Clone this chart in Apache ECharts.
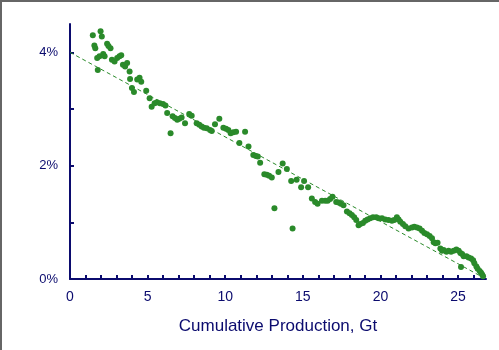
<!DOCTYPE html>
<html>
<head>
<meta charset="utf-8">
<script src="https://cdn.jsdelivr.net/npm/echarts@6/dist/echarts.min.js"></script>
<style>
  html, body { margin: 0; padding: 0; background: #fff; }
  #wrap { position: relative; width: 499px; height: 350px; }
  #chart { position: absolute; left: 0; top: 0; width: 499px; height: 350px; }
  #frame { position: absolute; left: 0; top: 0; width: 499px; height: 350px; box-sizing: border-box;
           border-top: 2px solid #666; border-left: 2px solid #666; pointer-events: none; }
</style>
</head>
<body>
<div id="wrap"><div id="chart"></div><div id="frame"></div></div>
<script>
// Cumulative production (Gt)
const production = [
  1.47, 1.57, 1.63, 1.75, 1.79, 1.90, 1.97, 2.05, 2.14, 2.23,
  2.39, 2.48, 2.61, 2.70, 2.87, 3.04, 3.19, 3.30, 3.41, 3.55,
  3.68, 3.84, 3.87, 3.99, 4.12, 4.33, 4.48, 4.59, 4.91, 5.13,
  5.26, 5.45, 5.60, 5.79, 5.99, 6.15, 6.26, 6.48, 6.61, 6.76,
  6.91, 7.04, 7.19, 7.41, 7.68, 7.84, 8.16, 8.33, 8.48, 8.63,
  8.81, 9.02, 9.13, 9.34, 9.62, 9.88, 10.05, 10.20, 10.35, 10.52,
  10.70, 10.91, 11.28, 11.50, 11.81, 11.97, 12.10, 12.25, 12.52, 12.68,
  12.83, 13.00, 13.17, 13.43, 13.70, 13.97, 14.25, 14.34, 14.60, 14.89,
  15.08, 15.34, 15.58, 15.79, 15.95, 16.23, 16.44, 16.60, 16.76, 16.91,
  17.15, 17.30, 17.45, 17.62, 17.84, 18.01, 18.16, 18.31, 18.44, 18.59,
  18.70, 18.87, 19.02, 19.17, 19.34, 19.52, 19.73, 19.88, 20.10, 20.31,
  20.52, 20.74, 20.89, 21.06, 21.17, 21.28, 21.45, 21.60, 21.81, 22.03,
  22.18, 22.35, 22.52, 22.68, 22.83, 23.00, 23.17, 23.32, 23.43, 23.54,
  23.68, 23.86, 23.97, 24.07, 24.25, 24.39, 24.55, 24.72, 24.89, 25.04,
  25.15, 25.19, 25.26, 25.36, 25.54, 25.68, 25.84, 25.97, 26.05, 26.18,
  26.26, 26.39, 26.48, 26.55, 26.61
];
// Rate (%)
const rate = [
  4.30, 4.12, 4.07, 3.90, 3.69, 3.93, 4.37, 4.28, 3.97, 3.93,
  4.15, 4.11, 4.07, 3.87, 3.84, 3.90, 3.93, 3.95, 3.78, 3.75,
  3.81, 3.66, 3.53, 3.37, 3.30, 3.52, 3.55, 3.48, 3.32, 3.19,
  3.04, 3.10, 3.12, 3.10, 3.09, 3.06, 2.93, 2.57, 2.87, 2.84,
  2.81, 2.83, 2.85, 2.75, 2.91, 2.88, 2.75, 2.72, 2.69, 2.67,
  2.66, 2.63, 2.61, 2.73, 2.83, 2.67, 2.65, 2.63, 2.57, 2.59,
  2.60, 2.40, 2.60, 2.34, 2.19, 2.17, 2.16, 2.05, 1.85, 1.84,
  1.82, 1.79, 1.25, 1.89, 2.04, 1.94, 1.73, 0.89, 1.75, 1.62,
  1.73, 1.62, 1.42, 1.36, 1.33, 1.38, 1.38, 1.38, 1.41, 1.45,
  1.36, 1.35, 1.33, 1.30, 1.19, 1.16, 1.13, 1.09, 1.04, 0.95,
  0.97, 0.99, 1.03, 1.05, 1.07, 1.09, 1.09, 1.07, 1.07, 1.05,
  1.04, 1.03, 1.04, 1.09, 1.05, 1.01, 0.97, 0.93, 0.89, 0.91,
  0.92, 0.91, 0.89, 0.85, 0.81, 0.79, 0.76, 0.72, 0.65, 0.63,
  0.64, 0.54, 0.50, 0.51, 0.48, 0.50, 0.48, 0.50, 0.52, 0.50,
  0.46, 0.21, 0.44, 0.40, 0.40, 0.38, 0.36, 0.33, 0.28, 0.22,
  0.18, 0.14, 0.11, 0.08, 0.05
];
// Linear trend line end points
const trendX = [0, 26.6];
const trendY = [4.0, 0.03];
// Axis ticks / labels
const xTicks = [0,1,2,3,4,5,6,7,8,9,10,11,12,13,14,15,16,17,18,19,20,21,22,23,24,25,26];
const xLabels = [0, 5, 10, 15, 20, 25];
const yTicks = [0, 1, 2, 3, 4];
const yLabels = [0, 2, 4];
const xTitle = 'Cumulative Production, Gt';

const navy = '#0b0b6e';
const green = '#2a8a2a';
const font = 'Liberation Sans, Arial, sans-serif';

const chart = echarts.init(document.getElementById('chart'), null, { renderer: 'canvas' });
chart.setOption({
  animation: false,
  backgroundColor: '#ffffff',
  grid: { left: 70, right: 13, top: 24, bottom: 71, containLabel: false },
  xAxis: {
    type: 'value', min: 0, max: 26.8,
    name: xTitle, nameLocation: 'middle', nameGap: 39,
    nameTextStyle: { color: navy, fontSize: 17, fontFamily: font },
    axisLine: { show: true, lineStyle: { color: navy, width: 2 } },
    axisTick: { show: true, inside: true, length: 4, customValues: xTicks, lineStyle: { color: navy, width: 2 } },
    axisLabel: { customValues: xLabels, color: navy, fontSize: 14, margin: 11, fontFamily: font },
    splitLine: { show: false }
  },
  yAxis: {
    type: 'value', min: 0, max: 4.5,
    axisLine: { show: true, lineStyle: { color: navy, width: 2 } },
    axisTick: { show: true, inside: true, length: 4, customValues: yTicks, lineStyle: { color: navy, width: 2 } },
    axisLabel: { customValues: yLabels, color: navy, fontSize: 13, margin: 12,
                 formatter: v => v + '%', fontFamily: font },
    splitLine: { show: false }
  },
  series: [
    {
      type: 'line',
      data: trendX.map((x, i) => [x, trendY[i]]),
      showSymbol: false, symbol: 'none',
      lineStyle: { color: green, width: 1, type: [4, 3] },
      z: 1
    },
    {
      type: 'scatter',
      data: production.map((x, i) => [x, rate[i]]),
      symbol: 'circle', symbolSize: 6,
      itemStyle: { color: green, opacity: 1 },
      z: 2
    }
  ]
});
</script>
</body>
</html>
